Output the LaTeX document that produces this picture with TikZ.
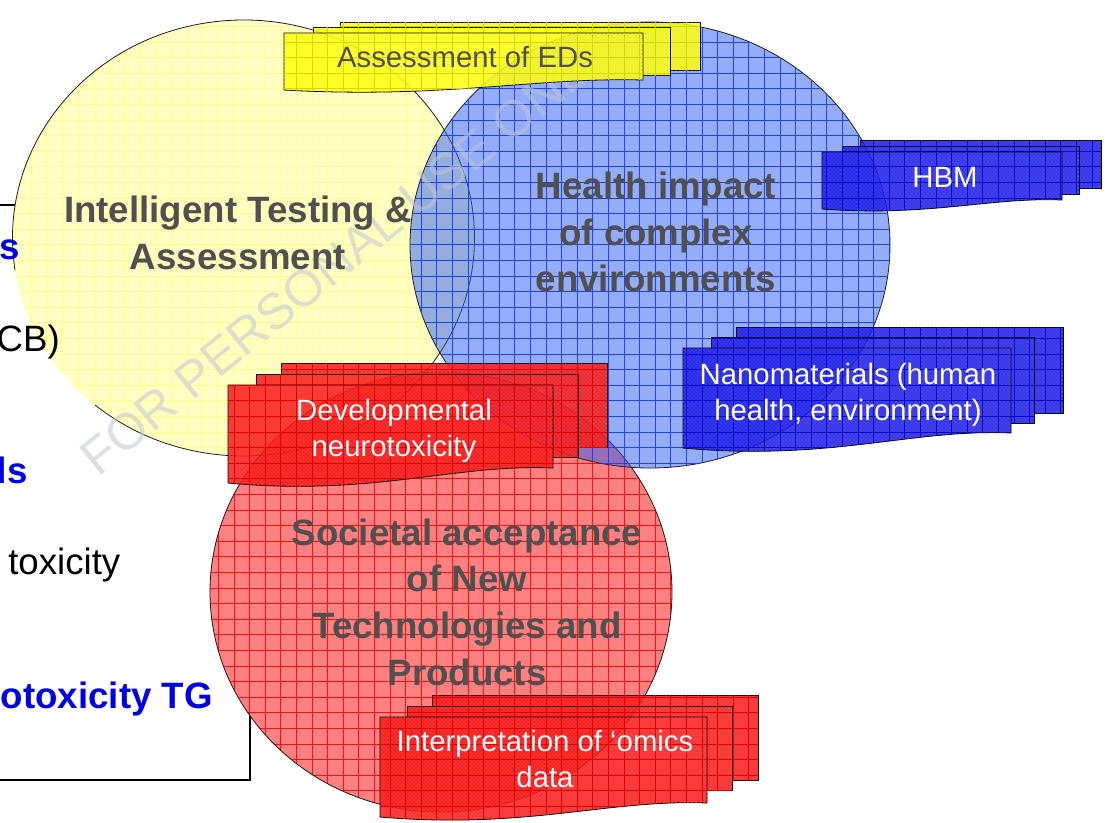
\documentclass[tikz,border=0pt]{standalone}
\usepackage{fontspec}
\setmainfont{Liberation Sans}
\usetikzlibrary{patterns}

\definecolor{ycircfill}{RGB}{255,255,196}
\definecolor{ycircline}{RGB}{255,255,140}
\definecolor{bcircfill}{RGB}{45,93,245}
\definecolor{bcircline}{RGB}{30,66,250}
\definecolor{rcircfill}{RGB}{255,128,128}
\definecolor{rcircline}{RGB}{255,30,30}
\definecolor{ydocbase}{RGB}{255,255,0}
\definecolor{ydocdot}{RGB}{255,255,150}
\definecolor{ydocline}{RGB}{215,215,0}
\definecolor{bdocbase}{RGB}{20,20,230}
\definecolor{bdocdot}{RGB}{120,120,255}
\definecolor{bdocline}{RGB}{10,10,200}
\definecolor{rdocbase}{RGB}{250,15,15}
\definecolor{rdocdot}{RGB}{255,140,140}
\definecolor{rdocline}{RGB}{225,0,0}
\definecolor{labelgray}{RGB}{80,80,80}
\definecolor{notesblue}{RGB}{0,0,230}
\definecolor{wmgray}{RGB}{190,198,210}

% grid tile for the hatched fills
\pgfdeclarepatternformonly{tilegrid}{\pgfqpoint{-0.5pt}{-0.5pt}}{\pgfqpoint{12.2pt}{12.2pt}}{\pgfqpoint{11.7pt}{11.7pt}}{%
  \pgfsetlinewidth{0.6pt}%
  \pgfpathmoveto{\pgfqpoint{0pt}{-0.5pt}}\pgfpathlineto{\pgfqpoint{0pt}{12.2pt}}%
  \pgfpathmoveto{\pgfqpoint{-0.5pt}{0pt}}\pgfpathlineto{\pgfqpoint{12.2pt}{0pt}}%
  \pgfusepath{stroke}}

\tikzset{
  rim/.style={draw={rgb,255:red,30;green,30;blue,30}, line width=0.6pt},
  boxline/.style={draw=black, line width=1.6pt},
  ycirc/.style={fill=ycircfill, postaction={pattern=tilegrid, pattern color=ycircline}},
  bcirc/.style={fill=bcircfill, fill opacity=0.5, postaction={pattern=tilegrid, pattern color=bcircline, fill opacity=0.5}},
  rcirc/.style={fill=rcircfill, postaction={pattern=tilegrid, pattern color=rcircline}},
  ydoc/.style={draw=black, line width=0.6pt, fill=ydocbase, fill opacity=0.85, postaction={pattern=crosshatch dots, pattern color=ydocdot, fill opacity=0.85}, postaction={pattern=tilegrid, pattern color=ydocline, fill opacity=0.85}},
  bdoc/.style={draw=black, line width=0.6pt, fill=bdocbase, fill opacity=0.85, postaction={pattern=crosshatch dots, pattern color=bdocdot, fill opacity=0.85}, postaction={pattern=tilegrid, pattern color=bdocline, fill opacity=0.85}},
  rdoc/.style={draw=black, line width=0.6pt, fill=rdocbase, fill opacity=0.85, postaction={pattern=crosshatch dots, pattern color=rdocdot, fill opacity=0.85}, postaction={pattern=tilegrid, pattern color=rdocline, fill opacity=0.85}},
  circlabel/.style={inner sep=0.75pt, align=center, text=labelgray, font=\fontsize{27.5}{35}\selectfont\bfseries},
  doclabel/.style={inner sep=0.75pt, align=center, text=white, font=\fontsize{22}{26.5}\selectfont},
  notebold/.style={inner sep=0pt, text=notesblue, font=\fontsize{27.5}{33}\selectfont\bfseries},
  noteplain/.style={inner sep=0pt, text=black, font=\fontsize{27.5}{33}\selectfont},
}

\begin{document}
\begin{tikzpicture}[x=0.75pt,y=0.75pt,yscale=-1,xscale=1]
\useasboundingbox (0,0) rectangle (1105,822);
\clip (0,0) rectangle (1105,822);
\fill[white] (0,0) rectangle (1105,822);

%Straight Lines [id:da51] box behind the circles
\draw[boxline] (-5,205) -- (30,205) ;
\draw[boxline] (250,716) -- (250,780) -- (-5,780) ;

%Shape: Ellipse [id:dp11] Intelligent Testing
\path[ycirc] (243.5,238) ellipse (231 and 218) ;
\draw[rim] ([shift={(171.5:231 and 218)}]243.5,238) arc (171.5:490:231 and 218) ;
%Shape: Ellipse [id:dp13] Societal acceptance
\begin{scope}[blend mode=multiply]
\draw[rcirc,rim] (441,592) ellipse (231 and 220) ;
\end{scope}
%Shape: Ellipse [id:dp12] Health impact
\draw[bcirc,rim] (650,245) ellipse (240 and 223) ;

% Watermark
\draw (345,255) node (wmark) [rotate=39, text=wmgray, opacity=0.55, font=\fontsize{38}{38}\selectfont] {FOR PERSONAL USE ONLY};

% Text Node (notes, cut by the left edge)
\draw (20,259) node (notes) [notebold, anchor=base east] {s};
\draw (60,351) node (notecb) [noteplain, anchor=base east] {CB)};
\draw (28,483) node (noteds) [notebold, anchor=base east] {ds};
\draw (8,574) node (notetox) [noteplain, anchor=base west] {toxicity};
\draw (213,708) node (notetg) [notebold, anchor=base east] {otoxicity TG};

% Text Node
\draw (238,233) node (itatext) [circlabel] {Intelligent Testing \&\\Assessment};
% Text Node
\draw (656,232) node (hictext) [circlabel] {Health impact\\of complex\\environments};
% Text Node
\draw (467,602) node (sanText) [circlabel] {Societal acceptance\\of New\\Technologies and\\Products};

%Shape: Multidocument [id:dp21] Assessment of EDs
\begin{scope}[even odd rule]
\clip (0,0) rectangle (1105,822) (284,33) -- (643,33) -- (643,80) .. controls (535,77) and (446,99) .. (284,90) -- cycle ;
\begin{scope}
\clip (0,0) rectangle (1105,822) (313,27) rectangle (670,75) ;
\draw[ydoc] (340,22) rectangle (700,70) ;
\end{scope}
\draw[ydoc] (313,27) rectangle (670,75) ;
\end{scope}
\draw[ydoc] (284,33) -- (643,33) -- (643,80) .. controls (535,77) and (446,99) .. (284,90) -- cycle ;

%Shape: Multidocument [id:dp22] HBM
\begin{scope}[even odd rule]
\clip (0,0) rectangle (1105,822) (822,152) -- (1062,152) -- (1062,200) .. controls (990,197) and (930,217) .. (822,209) -- cycle ;
\begin{scope}
\clip (0,0) rectangle (1105,822) (842,146) rectangle (1079,194) ;
\draw[bdoc] (860,140) rectangle (1101,188) ;
\end{scope}
\draw[bdoc] (842,146) rectangle (1079,194) ;
\end{scope}
\draw[bdoc] (822,152) -- (1062,152) -- (1062,200) .. controls (990,197) and (930,217) .. (822,209) -- cycle ;

%Shape: Multidocument [id:dp23] Nanomaterials
\begin{scope}[even odd rule]
\clip (0,0) rectangle (1105,822) (683,348) -- (1011,348) -- (1011,433) .. controls (913,428.5) and (831,461.5) .. (683,448) -- cycle ;
\begin{scope}
\clip (0,0) rectangle (1105,822) (711,337) rectangle (1034,423) ;
\draw[bdoc] (736,327) rectangle (1063,413) ;
\end{scope}
\draw[bdoc] (711,337) rectangle (1034,423) ;
\end{scope}
\draw[bdoc] (683,348) -- (1011,348) -- (1011,433) .. controls (913,428.5) and (831,461.5) .. (683,448) -- cycle ;

%Shape: Multidocument [id:dp24] Developmental neurotoxicity
\begin{scope}[even odd rule]
\clip (0,0) rectangle (1105,822) (228,385) -- (553,385) -- (553,468) .. controls (455.5,463.5) and (374,496.5) .. (228,483) -- cycle ;
\begin{scope}
\clip (0,0) rectangle (1105,822) (256,374) rectangle (578,457) ;
\draw[rdoc] (281,363) rectangle (607,447) ;
\end{scope}
\draw[rdoc] (256,374) rectangle (578,457) ;
\end{scope}
\draw[rdoc] (228,385) -- (553,385) -- (553,468) .. controls (455.5,463.5) and (374,496.5) .. (228,483) -- cycle ;

%Shape: Multidocument [id:dp25] omics data
\begin{scope}[even odd rule]
\clip (0,0) rectangle (1105,822) (380,717) -- (707,717) -- (707,803) .. controls (609,799) and (527,829.6) .. (380,817) -- cycle ;
\begin{scope}
\clip (0,0) rectangle (1105,822) (407,706) rectangle (732,790) ;
\draw[rdoc] (432,695) rectangle (758,780) ;
\end{scope}
\draw[rdoc] (407,706) rectangle (732,790) ;
\end{scope}
\draw[rdoc] (380,717) -- (707,717) -- (707,803) .. controls (609,799) and (527,829.6) .. (380,817) -- cycle ;

% Text Node
\draw (465,57) node (edslabel) [doclabel, text=labelgray] {Assessment of EDs};
% Text Node
\draw (945,177) node (hbmlabel) [doclabel] {HBM};
% Text Node
\draw (848,395) node (nanolabel) [doclabel] {Nanomaterials (human\\health, environment)};
% Text Node
\draw (394,431) node (dntlabel) [doclabel] {Developmental\\neurotoxicity};
% Text Node
\draw (545,759) node (omicslabel) [doclabel] {Interpretation of ‘omics\\data};

\end{tikzpicture}
\end{document}
